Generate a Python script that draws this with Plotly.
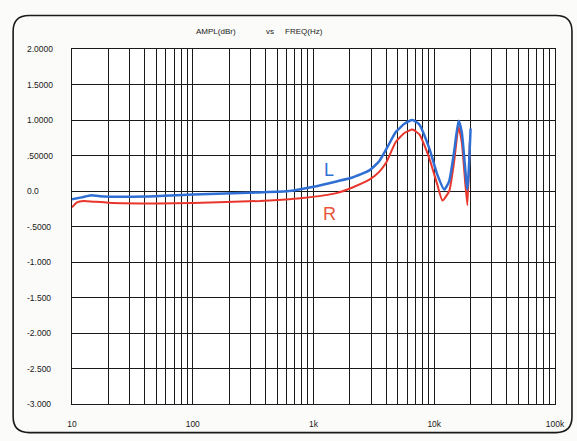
import plotly.graph_objects as go

# ---- data ----
freq_L = [10, 12, 14.5, 17, 40, 100, 350, 630, 1000, 1550, 2100, 2900, 3500, 4100,
          4800, 5700, 6600, 7500, 9100, 10600, 12100, 13300, 14600, 15900, 16900, 18800, 20000]
ampl_L = [-0.115, -0.09, -0.06, -0.074, -0.078, -0.05, -0.02, 0.0, 0.06, 0.135, 0.19, 0.29, 0.42, 0.62,
          0.83, 0.95, 1.0, 0.94, 0.6, 0.23, 0.02, 0.14, 0.55, 0.99, 0.83, 0.02, 0.88]

freq_R = [10, 11, 12.5, 15, 20, 50, 100, 360, 630, 810, 1550, 2100, 2900, 3500, 4000,
          4800, 5700, 6600, 7500, 9100, 10600, 11700, 13300, 14600, 15900, 16900, 18800, 19700]
ampl_R = [-0.23, -0.16, -0.14, -0.15, -0.165, -0.175, -0.17, -0.14, -0.115, -0.10, -0.03, 0.05, 0.16, 0.27, 0.40,
          0.69, 0.82, 0.865, 0.80, 0.46, 0.09, -0.135, 0.0, 0.41, 0.90, 0.69, -0.2, 0.69]

x_tick_vals = [10, 100, 1000, 10000, 100000]
x_tick_text = ["10", "100", "1k", "10k", "100k"]
y_tick_vals = [2.0, 1.5, 1.0, 0.5, 0.0, -0.5, -1.0, -1.5, -2.0, -2.5, -3.0]
y_tick_text = ["2.0000", "1.5000", "1.0000", ".50000", "0.0", "-.5000", "-1.000",
               "-1.500", "-2.000", "-2.500", "-3.000"]
title_parts = ["AMPL(dBr)", "vs", "FREQ(Hz)"]
series_names = ["L", "R"]

BLUE = "#2f6fd4"
RED = "#e8362c"
INK = "#1a1a1a"
FONT = "Liberation Sans"

fig = go.Figure()
fig.add_trace(go.Scatter(x=freq_R, y=ampl_R, mode="lines", name=series_names[1],
                         line=dict(color=RED, width=2, shape="spline", smoothing=0.5)))
fig.add_trace(go.Scatter(x=freq_L, y=ampl_L, mode="lines", name=series_names[0],
                         line=dict(color=BLUE, width=2.5, shape="spline", smoothing=0.5)))

minor_vals = [m * 10 ** e for e in range(1, 5) for m in range(2, 10)]

fig.update_xaxes(type="log", range=[1, 5], tickvals=x_tick_vals, ticktext=x_tick_text,
                 showgrid=True, gridcolor=INK, gridwidth=1, zeroline=False,
                 showline=True, linecolor=INK, linewidth=1.2, mirror=True,
                 ticks="", ticklabelstandoff=12,
                 tickfont=dict(family=FONT, size=8.5, color=INK),
                 minor=dict(tickvals=minor_vals, showgrid=True, gridcolor=INK, gridwidth=1, ticks=""))
fig.update_yaxes(range=[-3, 2], tickvals=y_tick_vals, showticklabels=False,
                 showgrid=True, gridcolor=INK, gridwidth=1, zeroline=False,
                 showline=True, linecolor=INK, linewidth=1.2, mirror=True, ticks="")

W, H = 577, 441
L_M, R_M, T_M, B_M = 72, 21, 49, 32
pw, ph = W - L_M - R_M, H - T_M - B_M

def px_x(px):
    return (px - L_M) / pw

def px_y(py):
    return (H - B_M - py) / ph

annotations = []
for v, t in zip(y_tick_vals, y_tick_text):
    annotations.append(dict(x=px_x(25), xref="paper", y=v, yref="y", text=t, showarrow=False,
                            xanchor="left", yanchor="middle",
                            font=dict(family=FONT, size=8.5, color=INK)))
for cx, t in zip([216, 270.5, 304], title_parts):
    annotations.append(dict(x=px_x(cx), xref="paper", y=px_y(31), yref="paper", text=t,
                            showarrow=False, xanchor="center", yanchor="middle",
                            font=dict(family=FONT, size=8, color=INK)))
annotations.append(dict(x=px_x(330), xref="paper", y=px_y(172), yref="paper", text=series_names[0],
                        showarrow=False, font=dict(family=FONT, size=18, color=BLUE)))
annotations.append(dict(x=px_x(330), xref="paper", y=px_y(216), yref="paper", text=series_names[1],
                        showarrow=False, font=dict(family=FONT, size=18, color="#e8553a")))

# rounded frame
x0, x1 = px_x(13), px_x(573)
y0, y1 = px_y(438), px_y(15)
rx, ry = 16 / pw, 16 / ph
path = (f"M {x0+rx},{y1} L {x1-rx},{y1} Q {x1},{y1} {x1},{y1-ry} "
        f"L {x1},{y0+ry} Q {x1},{y0} {x1-rx},{y0} "
        f"L {x0+rx},{y0} Q {x0},{y0} {x0},{y0+ry} "
        f"L {x0},{y1-ry} Q {x0},{y1} {x0+rx},{y1} Z")

fig.update_layout(
    width=W, height=H,
    margin=dict(l=L_M, r=R_M, t=T_M, b=B_M),
    paper_bgcolor="#fbfbf9", plot_bgcolor="white",
    showlegend=False,
    annotations=annotations,
    shapes=[dict(type="path", path=path, xref="paper", yref="paper",
                 line=dict(color=INK, width=1.6), layer="below")],
)

fig.write_html("out.html", config={"displayModeBar": False},
               post_script="document.body.style.margin='0';document.body.style.overflow='hidden';")
